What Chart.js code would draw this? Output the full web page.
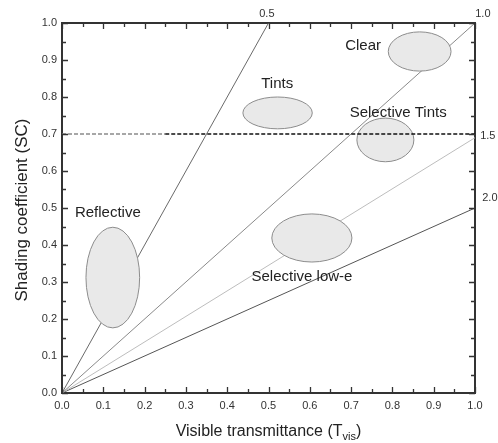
<!DOCTYPE html>
<html>
<head>
<meta charset="utf-8">
<script src="https://cdn.jsdelivr.net/npm/chart.js@4/dist/chart.umd.min.js"></script>
<style>
  html, body { margin: 0; padding: 0; background: #fff; }
  #wrap { width: 498px; height: 443px; position: relative; }
</style>
</head>
<body>
<div id="wrap"><canvas id="c" width="498" height="443"></canvas></div>
<script>
// ---- data ----
const xTickLabels = ['0.0','0.1','0.2','0.3','0.4','0.5','0.6','0.7','0.8','0.9','1.0'];
const yTickLabels = ['0.0','0.1','0.2','0.3','0.4','0.5','0.6','0.7','0.8','0.9','1.0'];

// light-to-solar-gain ratio lines from the origin
const ratioLabels = ['0.5', '1.0', '1.5', '2.0'];
const ratioEndTvis = [0.5, 1.0, 1.0, 1.0];
const ratioEndSC   = [1.0, 1.0, 0.69, 0.5];

// SC = 0.7 reference line
const scThreshold = 0.7;

// glazing regions (centre Tvis, centre SC, half-width, half-height)
const regionNames  = ['Reflective', 'Tints', 'Clear', 'Selective Tints', 'Selective low-e'];
const regionTvis   = [0.123, 0.522, 0.866, 0.783, 0.605];
const regionSC     = [0.312, 0.757, 0.923, 0.684, 0.419];
const regionHalfW  = [0.065, 0.084, 0.076, 0.069, 0.097];
const regionHalfH  = [0.136, 0.043, 0.053, 0.059, 0.065];

// ---- presentation ----
const regionLabelPos = [[0.111, 0.486], [0.521, 0.836], [0.729, 0.938], [0.814, 0.757], [0.581, 0.314]];
const ratioLabelPos  = [[0.496, 1.024], [1.019, 1.024], [1.031, 0.695], [1.036, 0.527]];
const ratioColors = ['#6a6a6a', '#8a8a8a', '#bdbdbd', '#555555'];
const FONT = '"Liberation Sans", Arial, Helvetica, sans-serif';

const datasets = ratioLabels.map((lab, i) => ({
  label: 'LSG ' + lab,
  data: [{x: 0, y: 0}, {x: ratioEndTvis[i], y: ratioEndSC[i]}],
  showLine: true, pointRadius: 0, borderColor: ratioColors[i], borderWidth: 1,
  order: 2
}));
datasets.push({
  label: 'SC 0.7',
  data: [{x: 0, y: scThreshold}, {x: 0.25, y: scThreshold}, {x: 1, y: scThreshold}],
  showLine: true, pointRadius: 0, borderWidth: 1.6, borderDash: [4, 2],
  borderColor: '#111',
  segment: { borderColor: ctx => ctx.p0DataIndex === 0 ? '#8a8a8a' : '#111' },
  order: 0
});
const dashedIndex = datasets.length - 1;

const overlay = {
  id: 'overlay',
  beforeDatasetDraw(chart, args) {
    if (args.index !== dashedIndex) return;
    const {ctx, scales: {x, y}} = chart;
    ctx.save();
    for (let i = 0; i < regionNames.length; i++) {
      const cx = x.getPixelForValue(regionTvis[i]);
      const cy = y.getPixelForValue(regionSC[i]);
      const rx = Math.abs(x.getPixelForValue(regionTvis[i] + regionHalfW[i]) - cx);
      const ry = Math.abs(y.getPixelForValue(regionSC[i] + regionHalfH[i]) - cy);
      ctx.beginPath();
      ctx.ellipse(cx, cy, rx, ry, 0, 0, Math.PI * 2);
      ctx.fillStyle = '#e9e9e9';
      ctx.fill();
      ctx.lineWidth = 1;
      ctx.strokeStyle = '#8c8c8c';
      ctx.stroke();
    }
    ctx.restore();
  },
  afterDraw(chart) {
    const {ctx, scales: {x, y}, chartArea: ca} = chart;
    ctx.save();
    // inward tick marks on all four sides
    ctx.strokeStyle = '#333';
    ctx.lineWidth = 1.3;
    for (let k = 0; k <= 20; k++) {
      const v = k / 20;
      const len = k % 2 === 0 ? 6 : 4;
      const px = Math.round(x.getPixelForValue(v)) + 0.5;
      const py = Math.round(y.getPixelForValue(v)) + 0.5;
      ctx.beginPath();
      ctx.moveTo(px, ca.bottom); ctx.lineTo(px, ca.bottom - len);
      ctx.moveTo(px, ca.top); ctx.lineTo(px, ca.top + len);
      ctx.moveTo(ca.left, py); ctx.lineTo(ca.left + len, py);
      ctx.moveTo(ca.right, py); ctx.lineTo(ca.right - len, py);
      ctx.stroke();
    }
    // region labels
    ctx.fillStyle = '#222';
    ctx.font = '15px ' + FONT;
    ctx.textAlign = 'center';
    ctx.textBaseline = 'middle';
    regionNames.forEach((n, i) => {
      ctx.fillText(n, x.getPixelForValue(regionLabelPos[i][0]), y.getPixelForValue(regionLabelPos[i][1]));
    });
    // ratio labels
    ctx.font = '11px ' + FONT;
    ctx.fillStyle = '#333';
    ratioLabels.forEach((n, i) => {
      ctx.fillText(n, x.getPixelForValue(ratioLabelPos[i][0]), y.getPixelForValue(ratioLabelPos[i][1]));
    });
    // x axis title with subscript
    const TF = '16px ' + FONT, SF = '11px ' + FONT;
    ctx.font = TF;
    ctx.fillStyle = '#222';
    const main = 'Visible transmittance (T';
    const sub = 'vis';
    const close = ')';
    ctx.textAlign = 'left';
    ctx.textBaseline = 'alphabetic';
    const wMain = ctx.measureText(main).width;
    ctx.font = SF;
    const wSub = ctx.measureText(sub).width;
    ctx.font = TF;
    const wClose = ctx.measureText(close).width;
    const total = wMain + wSub + wClose;
    const cxTitle = (ca.left + ca.right) / 2;
    let tx = cxTitle - total / 2;
    const base = 436;
    ctx.fillText(main, tx, base); tx += wMain;
    ctx.font = SF;
    ctx.fillText(sub, tx, base + 4); tx += wSub;
    ctx.font = TF;
    ctx.fillText(close, tx, base);
    // y axis title
    ctx.translate(22, 210);
    ctx.rotate(-Math.PI / 2);
    ctx.textAlign = 'center';
    ctx.textBaseline = 'middle';
    ctx.font = '17px ' + FONT;
    ctx.fillText('Shading coefficient (SC)', 0, 0);
    ctx.restore();
  }
};

new Chart(document.getElementById('c'), {
  type: 'scatter',
  data: { datasets },
  options: {
    responsive: false,
    animation: false,
    events: [],
    layout: { padding: 0 },
    plugins: { legend: { display: false }, tooltip: { enabled: false } },
    scales: {
      x: {
        type: 'linear', position: 'bottom', min: 0, max: 1,
        afterFit: s => { s.height = 50; },
        grid: { display: false, drawTicks: false },
        border: { display: true, color: '#333', width: 2 },
        ticks: {
          stepSize: 0.1, autoSkip: false, maxRotation: 0, padding: 6,
          color: '#333', font: { size: 11, family: FONT },
          callback: (v, i) => xTickLabels[i]
        }
      },
      y: {
        type: 'linear', position: 'left', min: 0, max: 1,
        afterFit: s => { s.width = 62; },
        grid: { display: false, drawTicks: false },
        border: { display: true, color: '#333', width: 2 },
        ticks: {
          stepSize: 0.1, autoSkip: false, padding: 5,
          color: '#333', font: { size: 11, family: FONT },
          callback: (v, i) => yTickLabels[i]
        }
      },
      xTop: {
        type: 'linear', position: 'top', min: 0, max: 1,
        afterFit: s => { s.height = 23; },
        grid: { display: false, drawTicks: false },
        border: { display: true, color: '#333', width: 2 },
        ticks: { display: false }
      },
      yRight: {
        type: 'linear', position: 'right', min: 0, max: 1,
        afterFit: s => { s.width = 23; },
        grid: { display: false, drawTicks: false },
        border: { display: true, color: '#333', width: 2 },
        ticks: { display: false }
      }
    }
  },
  plugins: [overlay]
});
</script>
</body>
</html>
